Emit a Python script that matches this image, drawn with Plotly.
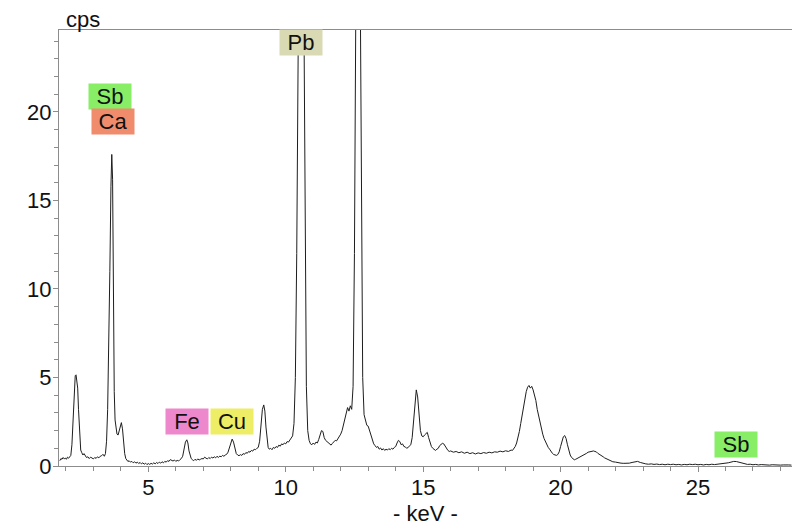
import plotly.graph_objects as go

# ---- spectrum data (energy in keV, intensity in cps) ----
kev = [
    1.78, 1.82, 1.86, 1.90, 1.94, 1.98, 2.02, 2.06, 2.10, 2.14,
    2.18, 2.22, 2.26, 2.30, 2.34, 2.37, 2.40, 2.43, 2.46, 2.50,
    2.54, 2.58, 2.62, 2.66, 2.70, 2.75, 2.80, 2.85, 2.90, 2.95,
    3.00, 3.05, 3.10, 3.15, 3.20, 3.25, 3.30, 3.35, 3.40, 3.44,
    3.48, 3.52, 3.56, 3.60, 3.64, 3.67, 3.70, 3.73, 3.76, 3.79,
    3.82, 3.86, 3.90, 3.94, 3.98, 4.02, 4.06, 4.10, 4.14, 4.18,
    4.22, 4.26, 4.30, 4.35, 4.40, 4.45, 4.50, 4.55, 4.60, 4.65,
    4.70, 4.75, 4.80, 4.85, 4.90, 4.95, 5.00, 5.05, 5.10, 5.15,
    5.20, 5.25, 5.30, 5.35, 5.40, 5.45, 5.50, 5.55, 5.60, 5.65,
    5.70, 5.75, 5.80, 5.85, 5.90, 5.95, 6.00, 6.05, 6.10, 6.15,
    6.20, 6.25, 6.30, 6.35, 6.40, 6.44, 6.48, 6.52, 6.56, 6.60,
    6.65, 6.70, 6.75, 6.80, 6.85, 6.90, 6.95, 7.00, 7.05, 7.10,
    7.15, 7.20, 7.25, 7.30, 7.35, 7.40, 7.45, 7.50, 7.55, 7.60,
    7.65, 7.70, 7.75, 7.80, 7.85, 7.90, 7.95, 8.00, 8.05, 8.10,
    8.15, 8.20, 8.25, 8.30, 8.35, 8.40, 8.45, 8.50, 8.55, 8.60,
    8.65, 8.70, 8.75, 8.80, 8.85, 8.90, 8.95, 9.00, 9.05, 9.10,
    9.15, 9.20, 9.24, 9.28, 9.32, 9.36, 9.40, 9.45, 9.50, 9.55,
    9.60, 9.65, 9.70, 9.75, 9.80, 9.85, 9.90, 9.95, 10.00, 10.05,
    10.10, 10.15, 10.20, 10.25, 10.30, 10.35, 10.40, 10.45, 10.50, 10.55,
    10.60, 10.65, 10.70, 10.75, 10.80, 10.85, 10.90, 10.95, 11.00, 11.05,
    11.10, 11.15, 11.20, 11.25, 11.30, 11.35, 11.40, 11.45, 11.50, 11.55,
    11.60, 11.65, 11.70, 11.75, 11.80, 11.85, 11.90, 11.95, 12.00, 12.05,
    12.10, 12.15, 12.20, 12.25, 12.30, 12.35, 12.40, 12.45, 12.50, 12.55,
    12.60, 12.65, 12.70, 12.75, 12.80, 12.85, 12.90, 12.95, 13.00, 13.05,
    13.10, 13.15, 13.20, 13.25, 13.30, 13.35, 13.40, 13.45, 13.50, 13.55,
    13.60, 13.65, 13.70, 13.75, 13.80, 13.85, 13.90, 13.95, 14.00, 14.05,
    14.10, 14.15, 14.20, 14.25, 14.30, 14.35, 14.40, 14.45, 14.50, 14.55,
    14.60, 14.65, 14.70, 14.75, 14.80, 14.85, 14.90, 14.95, 15.00, 15.05,
    15.10, 15.15, 15.20, 15.25, 15.30, 15.35, 15.40, 15.45, 15.50, 15.55,
    15.60, 15.65, 15.70, 15.75, 15.80, 15.85, 15.90, 15.95, 16.00, 16.10,
    16.2, 16.3, 16.4, 16.5, 16.6, 16.7, 16.8, 16.9, 17.0, 17.1,
    17.2, 17.3, 17.4, 17.5, 17.6, 17.7, 17.8, 17.9, 18.0, 18.1,
    18.2, 18.25, 18.30, 18.35, 18.40, 18.45, 18.50, 18.55, 18.60, 18.65,
    18.70, 18.75, 18.80, 18.85, 18.90, 18.95, 19.00, 19.05, 19.10, 19.15,
    19.20, 19.25, 19.30, 19.35, 19.40, 19.45, 19.50, 19.55, 19.60, 19.65,
    19.70, 19.75, 19.80, 19.85, 19.90, 19.95, 20.00, 20.05, 20.10, 20.15,
    20.20, 20.25, 20.30, 20.35, 20.40, 20.45, 20.50, 20.55, 20.60, 20.65,
    20.70, 20.75, 20.80, 20.85, 20.90, 20.95, 21.00, 21.05, 21.10, 21.15,
    21.20, 21.25, 21.30, 21.35, 21.40, 21.45, 21.50, 21.55, 21.60, 21.65,
    21.70, 21.75, 21.80, 21.85, 21.90, 22.0, 22.1, 22.2, 22.3, 22.4,
    22.5, 22.6, 22.7, 22.8, 22.9, 23.0, 23.1, 23.2, 23.3, 23.4,
    23.5, 23.6, 23.7, 23.8, 23.9, 24.0, 24.1, 24.2, 24.3, 24.4,
    24.5, 24.6, 24.7, 24.8, 24.9, 25.0, 25.1, 25.2, 25.3, 25.4,
    25.5, 25.6, 25.7, 25.8, 25.9, 26.0, 26.1, 26.2, 26.3, 26.4,
    26.5, 26.6, 26.7, 26.8, 26.9, 27.0, 27.1, 27.2, 27.3, 27.4,
    27.5, 27.6, 27.7, 27.8, 27.9, 28.0, 28.1, 28.2, 28.3, 28.4,
]

cps = [
    0.30, 0.42, 0.38, 0.48, 0.40, 0.45, 0.38, 0.50, 0.44, 0.52,
    0.60, 1.2, 2.6, 4.2, 5.1, 5.15, 4.7, 4.4, 3.2, 1.6,
    0.9, 0.75, 0.62, 0.70, 0.58, 0.48, 0.52, 0.42, 0.50, 0.44,
    0.40, 0.48, 0.43, 0.52, 0.46, 0.55, 0.58, 0.66, 0.55, 0.70,
    1.4, 3.2, 6.5, 11.0, 15.8, 17.6, 16.2, 9.5, 4.2, 2.6,
    2.2, 1.8, 1.75, 2.0, 2.3, 2.45, 2.1, 1.3, 0.7, 0.42,
    0.30, 0.25, 0.30, 0.22, 0.26, 0.18, 0.24, 0.16, 0.22, 0.14,
    0.20, 0.12, 0.18, 0.10, 0.16, 0.08, 0.14, 0.09, 0.15, 0.11,
    0.18, 0.12, 0.20, 0.14, 0.22, 0.16, 0.24, 0.18, 0.26, 0.22,
    0.30, 0.26, 0.36, 0.30, 0.28, 0.34, 0.26, 0.32, 0.28, 0.36,
    0.42, 0.55, 0.95, 1.35, 1.48, 1.30, 0.85, 0.55, 0.42, 0.36,
    0.30, 0.38, 0.32, 0.40, 0.34, 0.38, 0.42, 0.40, 0.50, 0.44,
    0.40, 0.48, 0.42, 0.50, 0.45, 0.52, 0.46, 0.55, 0.48, 0.56,
    0.52, 0.60, 0.55, 0.62, 0.66, 0.78, 1.05, 1.40, 1.52, 1.35,
    0.95, 0.70, 0.62, 0.58, 0.64, 0.60, 0.70, 0.66, 0.76, 0.72,
    0.82, 0.78, 0.88, 0.84, 0.95, 0.92, 1.0, 1.05, 1.4, 2.3,
    3.2, 3.45, 3.1, 2.2, 1.4, 1.05, 0.95, 1.0, 0.92, 1.05,
    1.0, 1.1, 1.05, 1.18, 1.12, 1.25, 1.2, 1.3, 1.25, 1.38,
    1.35, 1.45, 1.55, 1.7, 2.4, 5.0, 12.0, 24.0, 38.0, 45.0,
    40.0, 26.0, 12.0, 4.5, 2.0, 1.45, 1.25, 1.2, 1.3, 1.22,
    1.35, 1.3, 1.5, 1.75, 2.0, 1.95, 1.6, 1.45, 1.38, 1.3,
    1.22, 1.18, 1.28, 1.35, 1.45, 1.42, 1.55, 1.6, 1.8, 2.0,
    2.3, 2.6, 2.95, 3.3, 3.1, 3.4, 3.2, 4.5, 12.0, 26.0,
    40.0, 42.0, 28.0, 12.0, 5.0, 2.9, 2.5, 2.3, 2.25, 2.0,
    1.7, 1.4, 1.25, 1.15, 1.05, 1.1, 0.95, 1.02, 0.9, 0.98,
    0.88, 0.95, 0.9, 0.98, 0.92, 1.0, 0.95, 1.05, 1.1, 1.3,
    1.45, 1.38, 1.2, 1.25, 1.1, 1.08, 1.0, 1.05, 1.1, 1.2,
    1.6, 2.6, 3.8, 4.3, 3.9, 2.8, 2.0, 1.7, 1.65, 1.75,
    1.85, 1.9, 1.6, 1.3, 1.1, 1.0, 0.92, 0.88, 0.95, 1.0,
    1.15, 1.2, 1.28, 1.25, 1.1, 0.95, 0.88, 0.82, 0.85, 0.78,
    0.82, 0.75, 0.8, 0.72, 0.78, 0.7, 0.75, 0.68, 0.74, 0.7,
    0.76, 0.72, 0.78, 0.74, 0.8, 0.78, 0.84, 0.8, 0.86, 0.82,
    0.9, 0.88, 1.0, 1.1, 1.3, 1.6, 1.95, 2.4, 2.9, 3.4,
    3.8, 4.2, 4.45, 4.55, 4.4, 4.5, 4.3, 4.0, 3.7, 3.2,
    2.8, 2.4, 2.1, 1.8, 1.55, 1.35, 1.2, 1.05, 0.95, 0.82,
    0.72, 0.65, 0.62, 0.6, 0.65, 0.8, 1.1, 1.4, 1.65, 1.72,
    1.55, 1.2, 0.9, 0.62, 0.48, 0.4, 0.35, 0.38, 0.42, 0.45,
    0.5, 0.52, 0.56, 0.62, 0.68, 0.72, 0.78, 0.8, 0.84, 0.86,
    0.85, 0.82, 0.8, 0.72, 0.68, 0.62, 0.56, 0.52, 0.46, 0.42,
    0.38, 0.34, 0.3, 0.28, 0.24, 0.22, 0.18, 0.16, 0.15, 0.14,
    0.16, 0.2, 0.25, 0.26, 0.2, 0.15, 0.12, 0.1, 0.12, 0.09,
    0.11, 0.08, 0.1, 0.07, 0.1, 0.08, 0.1, 0.07, 0.09, 0.06,
    0.09, 0.07, 0.1, 0.08, 0.1, 0.07, 0.09, 0.06, 0.09, 0.07,
    0.1, 0.08, 0.1, 0.09, 0.12, 0.14, 0.18, 0.22, 0.26, 0.25,
    0.2, 0.15, 0.12, 0.09, 0.1, 0.07, 0.09, 0.06, 0.08, 0.06,
    0.08, 0.05, 0.07, 0.05, 0.07, 0.05, 0.06, 0.04, 0.06, 0.05,
]
assert len(kev) == len(cps), (len(kev), len(cps))

# ---- element labels ----
label_text = ["Sb", "Ca", "Pb", "Fe", "Cu", "Sb"]
label_kev = [3.61, 3.72, 10.55, 6.39, 8.04, 26.37]
label_cps = [20.88, 19.46, 23.93, 2.54, 2.54, 1.19]
label_color = ["#88ee66", "#f08c6c", "#d9d9b3", "#ee88cc", "#eeee66", "#88ee66"]

x_ticks = [5, 10, 15, 20, 25]
y_ticks = [0, 5, 10, 15, 20]

FONT = "'Liberation Sans', Arial, sans-serif"
AXIS_GREY = "#8c8c8c"
FS = 22

# The page body has an 8px margin, so the figure is drawn 8px right/down.
OFF = 8
W, H = 800 - OFF, 526 - OFF
# target plot area in window pixels: x 59..792, y 30..466
L, T = 59 - OFF, 30 - OFF
R = W - (792 - OFF)
B = H - (466 - OFF)
pw, ph = W - L - R, H - T - B


def paper_x(px):
    return (px - OFF - L) / pw


def paper_y(py):
    return (H - B - (py - OFF)) / ph


fig = go.Figure()
fig.add_trace(go.Scatter(
    x=kev, y=cps, mode="lines",
    line=dict(color="#1e1e1e", width=1),
    hoverinfo="skip", showlegend=False,
))

for t, xk, yc, col in zip(label_text, label_kev, label_cps, label_color):
    fig.add_annotation(
        x=xk, y=yc, xref="x", yref="y", text=t, showarrow=False,
        bgcolor=col, width=42, height=25, borderpad=0,
        font=dict(family=FONT, size=FS, color="#111111"),
        xanchor="center", yanchor="middle",
    )

fig.add_annotation(
    x=paper_x(64), y=paper_y(19), xref="paper", yref="paper",
    text="cps", showarrow=False, xanchor="left", yanchor="middle",
    font=dict(family=FONT, size=FS, color="#111111"),
)
fig.add_annotation(
    x=paper_x(425.5), y=paper_y(513), xref="paper", yref="paper",
    text="- keV -", showarrow=False, xanchor="center", yanchor="middle",
    font=dict(family=FONT, size=FS, color="#111111"),
)

fig.update_layout(
    width=W, height=H,
    margin=dict(l=L, r=R, t=T, b=B, autoexpand=False),
    paper_bgcolor="white", plot_bgcolor="white",
    font=dict(family=FONT, size=FS, color="#111111"),
    xaxis=dict(
        range=[1.75, 28.42], tickvals=x_ticks, ticktext=[str(v) for v in x_ticks],
        showgrid=False, zeroline=False, automargin=False,
        showline=True, linecolor=AXIS_GREY, linewidth=1, mirror=True,
        ticks="outside", ticklen=5, tickcolor=AXIS_GREY, tickwidth=1,
        minor=dict(dtick=1, tick0=0, ticks="outside", ticklen=4,
                   tickcolor=AXIS_GREY, tickwidth=1, showgrid=False),
        tickfont=dict(family=FONT, size=FS), ticklabelstandoff=-3,
    ),
    yaxis=dict(
        range=[0, 24.63], tickvals=y_ticks, ticktext=[str(v) for v in y_ticks],
        showgrid=False, zeroline=False, automargin=False,
        showline=True, linecolor=AXIS_GREY, linewidth=1, mirror=True,
        ticks="outside", ticklen=5, tickcolor=AXIS_GREY, tickwidth=1,
        minor=dict(dtick=1, tick0=0, ticks="outside", ticklen=4,
                   tickcolor=AXIS_GREY, tickwidth=1, showgrid=False),
        tickfont=dict(family=FONT, size=FS), ticklabelstandoff=-3,
    ),
)

fig.write_html("out.html")
